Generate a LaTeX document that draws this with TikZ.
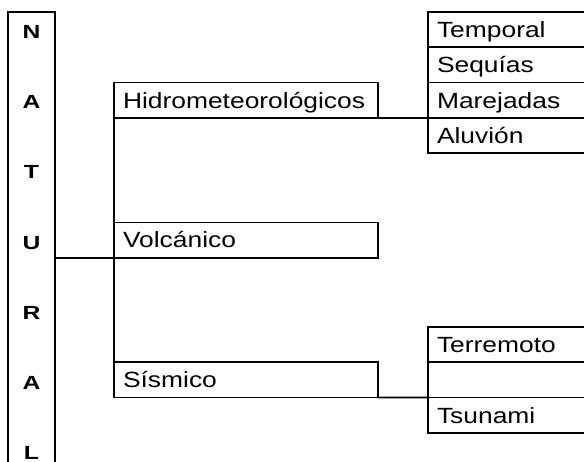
\documentclass[tikz,border=0pt]{standalone}
\usepackage{fontspec}
\setmainfont{Liberation Sans}
\newfontfamily\wfont[FakeStretch=1.2]{Liberation Sans}
\newfontfamily\lfont[FakeStretch=1.3]{Liberation Sans}
\begin{document}
\begin{tikzpicture}[x=1bp,y=-1bp,line width=1.6bp,
  box/.style={draw, rectangle, anchor=north west, inner xsep=9bp, inner ysep=0pt, outer sep=0pt,
    minimum height=35.3bp, text height=15.8bp, text depth=0pt, align=left,
    font=\wfont\fontsize{22bp}{26bp}\selectfont},
  catbox/.style={box, text width=246bp},
  rowbox/.style={box, text width=170bp},
  letter/.style={inner sep=0pt, text height=13.6bp, text depth=0pt,
    font=\lfont\bfseries\fontsize{19bp}{23bp}\selectfont}]
\useasboundingbox (0,0) rectangle (584,462);
\clip (0,0) rectangle (584,462);
% NATURAL column (open at bottom)
\coordinate (natBL) at (8,470);
\coordinate (natTL) at (8,12);
\coordinate (natTR) at (55,12);
\coordinate (natBR) at (55,470);
\draw (natBL) -- (natTL) -- (natTR) -- (natBR);
\node[letter] (l1) at (31.5,31.5) {N};
\node[letter] (l2) at (31.5,101.8) {A};
\node[letter] (l3) at (31.5,172.1) {T};
\node[letter] (l4) at (31.5,242.4) {U};
\node[letter] (l5) at (31.5,312.7) {R};
\node[letter] (l6) at (31.5,383) {A};
\node[letter] (l7) at (31.5,453) {L};
% categories
\node[catbox] (hidro) at (114,82.6) {Hidrometeorológicos};
\node[catbox] (volc) at (114,222.4) {Volcánico};
\node[catbox] (sis) at (114,362.2) {Sísmico};
% first stack
\node[rowbox] (tem) at (428,12) {Temporal};
\node[rowbox] (seq) at (428,47.3) {Sequías};
\node[rowbox] (mar) at (428,82.6) {Marejadas};
\node[rowbox] (alu) at (428,117.9) {Aluvión};
% second stack
\node[rowbox] (ter) at (428,326.9) {Terremoto};
\node[rowbox] (emp) at (428,362.2) {};
\node[rowbox] (tsu) at (428,397.5) {Tsunami};
% connectors
\draw (volc.south west) -- (volc.south west -| natTR);
\draw (hidro.south west) -- (sis.north west);
\draw (hidro.south east) -- (mar.south west);
\draw (sis.south east) -- (tsu.north west);
\end{tikzpicture}
\end{document}
